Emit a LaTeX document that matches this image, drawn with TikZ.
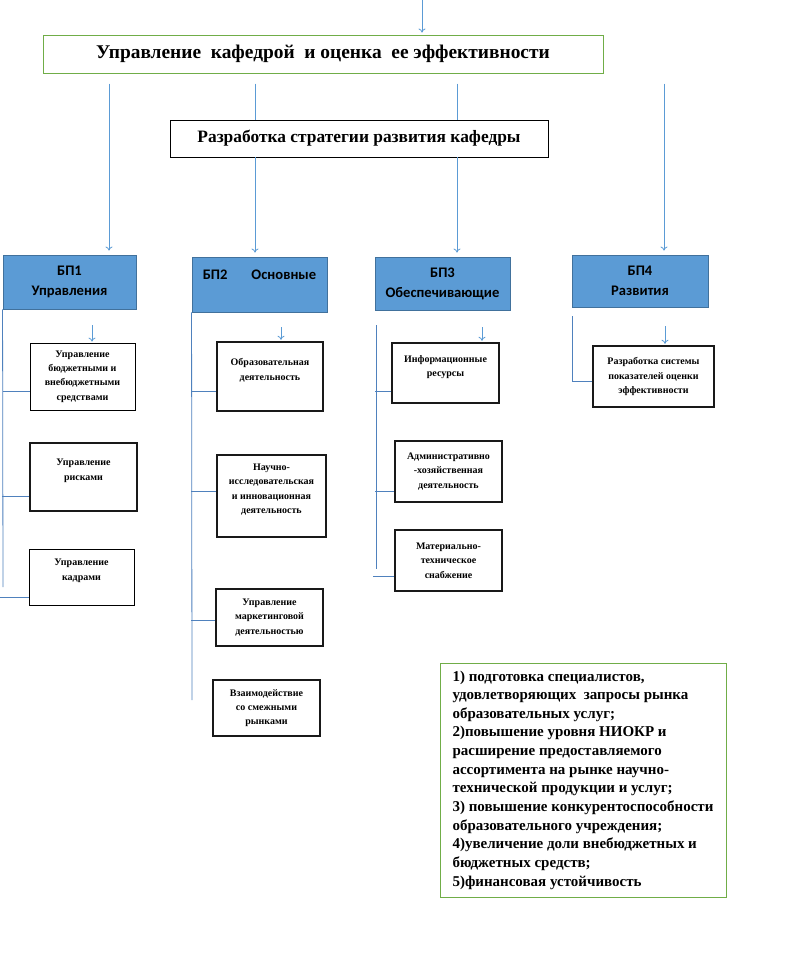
\documentclass[tikz,border=0pt]{standalone}
\usepackage{fontspec}
\setmainfont{Liberation Serif}
\newfontfamily\bpfont{Carlito}
\usetikzlibrary{arrows.meta}
\definecolor{lblue}{HTML}{5B9BD5}
\definecolor{bpedge}{HTML}{41719C}
\definecolor{lgreen}{HTML}{70AD47}
\definecolor{spine}{HTML}{4F81BD}

\begin{document}
\begin{tikzpicture}[x=1pt, y=-1pt,
  link/.style={draw=lblue, line width=0.8pt},
  arr/.style={link, -{To[length=4pt,width=7pt]}},
  ln/.style={draw=spine, line width=0.8pt},
  bp/.style={draw=bpedge, fill=lblue, line width=0.9pt, align=center, inner sep=0pt, font=\bpfont\bfseries\fontsize{14.6}{20}\selectfont},
  kbox/.style={draw, line width=0.8pt, align=center, inner sep=0pt, font=\bfseries\fontsize{10}{14.3}\selectfont},
  kboxb/.style={kbox, draw=black!90, line width=2.5pt}]
	\fill[white] (0,0) rectangle (802,959);
	\useasboundingbox (0,0) rectangle (802,959);

	\node[draw=lgreen, line width=1pt, minimum width=560pt, minimum height=38pt, font=\bfseries\fontsize{19.4}{22}\selectfont] (main) at (323,54) {Управление~ кафедрой~ и оценка~ ее эффективности};
	\node[draw, line width=0.9pt, minimum width=378pt, minimum height=37pt, font=\bfseries\fontsize{17.4}{20}\selectfont] (strat) at (359,138.5) {Разработка стратегии развития кафедры};

	\node[bp, minimum width=133pt, minimum height=54pt] (bp1) at (69.5,282) {БП1\\Управления};
	\node[bp, minimum width=135pt, minimum height=55pt] (bp2) at (259.5,284.5) {БП2\hspace{24pt}Основные\\~};
	\node[bp, minimum width=135pt, minimum height=53pt] (bp3) at (442.5,283.5) {БП3\\Обеспечивающие};
	\node[bp, minimum width=136pt, minimum height=52pt] (bp4) at (640,281) {БП4\\Развития};

	\node[kbox, minimum width=105pt, minimum height=67pt] (k11) at (82.5,376.5) {Управление\\бюджетными и\\внебюджетными\\средствами};
	\node[kboxb, minimum width=107pt, minimum height=68pt] (k12) at (83.5,477) {Управление\\рисками\\~};
	\node[kbox, minimum width=105pt, minimum height=56pt] (k13) at (81.5,577) {Управление\\кадрами\\~};

	\node[kboxb, minimum width=106pt, minimum height=69pt] (k21) at (270,376.5) {Образовательная\\деятельность\\~};
	\node[kboxb, minimum width=109pt, minimum height=82pt] (k22) at (271.5,496) {Научно-\\исследовательская\\и инновационная\\деятельность\\~};
	\node[kboxb, minimum width=107pt, minimum height=57pt] (k23) at (269.5,617.5) {Управление\\маркетинговой\\деятельностью};
	\node[kboxb, minimum width=107pt, minimum height=56pt] (k24) at (266.5,708) {Взаимодействие\\со смежными\\рынками};

	\node[kboxb, minimum width=107pt, minimum height=60pt] (k31) at (445.5,373) {Информационные\\ресурсы\\~};
	\node[kboxb, minimum width=107pt, minimum height=61pt] (k32) at (448.5,471.5) {Административно\\-хозяйственная\\деятельность};
	\node[kboxb, minimum width=107pt, minimum height=61pt] (k33) at (448.5,560.5) {Материально-\\техническое\\снабжение};

	\node[kboxb, minimum width=121pt, minimum height=61pt] (k41) at (653.5,376.5) {Разработка системы\\показателей оценки\\эффективности};

	\node[draw=lgreen, line width=1pt, minimum width=286pt, minimum height=234pt, align=left, inner sep=0pt, font=\bfseries\fontsize{15}{18.64}\selectfont] (goals) at (583,780) {1) подготовка специалистов,\\удовлетворяющих~ запросы рынка\\образовательных услуг;\\2)повышение уровня НИОКР и\\расширение предоставляемого\\ассортимента на рынке научно-\\технической продукции и услуг;\\3) повышение конкурентоспособности\\образовательного учреждения;\\4)увеличение доли внебюджетных и\\бюджетных средств;\\5)финансовая устойчивость};

	\coordinate (in) at (422,0);
	\coordinate (x1) at (109,0);
	\coordinate (x2) at (255,0);
	\coordinate (x3) at (457,0);
	\coordinate (x4) at (664,0);
	\draw[arr, shorten >=2pt] (in) -- (main.north -| in);
	\draw[arr, shorten <=10pt, shorten >=4pt] (main.south -| x1) -- (bp1.north -| x1);
	\draw[link, shorten <=10pt] (main.south -| x2) -- (strat.north -| x2);
	\draw[link, shorten <=10pt] (main.south -| x3) -- (strat.north -| x3);
	\draw[arr, shorten >=4pt] (strat.south -| x2) -- (bp2.north -| x2);
	\draw[arr, shorten >=4pt] (strat.south -| x3) -- (bp3.north -| x3);
	\draw[arr, shorten <=10pt, shorten >=4pt] (main.south -| x4) -- (bp4.north -| x4);

	\coordinate (a1) at (92,325);
	\coordinate (a2) at (281,327);
	\coordinate (a3) at (482,327);
	\coordinate (a4) at (665,326);
	\draw[arr, shorten >=1pt] (a1) -- (k11.north -| a1);
	\draw[arr, shorten >=1pt] (a2) -- (k21.north -| a2);
	\draw[arr, shorten >=1pt] (a3) -- (k31.north -| a3);
	\draw[arr, shorten >=1pt] (a4) -- (k41.north -| a4);

	\coordinate (s1) at (3,587);
	\draw[ln] (bp1.south west) -- (s1);
	\draw[ln] ([yshift=-15pt]k11.west) -- ++(-27,0);
	\draw[ln] ([yshift=-19pt]k12.west) -- ++(-27,0);
	\draw[ln] ([yshift=-20pt]k13.west) -- ++(-29,0);

	\coordinate (s2) at (192,700);
	\draw[ln] (bp2.south west) -- (s2);
	\draw[ln] ([yshift=-14.5pt]k21.west) -- ++(-25,0);
	\draw[ln] ([yshift=5pt]k22.west) -- ++(-25,0);
	\draw[ln] ([yshift=-2.5pt]k23.west) -- ++(-24,0);

	\coordinate (t3) at (376,325);
	\coordinate (s3) at (376,569);
	\draw[ln] (t3) -- (s3);
	\draw[ln] ([yshift=-18pt]k31.west) -- ++(-16,0);
	\draw[ln] ([yshift=-19.5pt]k32.west) -- ++(-19,0);
	\draw[ln] ([yshift=-15.5pt]k33.west) -- ++(-21,0);

	\coordinate (t4) at (572,316);
	\draw[ln] (t4) |- ([yshift=-4.5pt]k41.west);
\end{tikzpicture}
\end{document}
